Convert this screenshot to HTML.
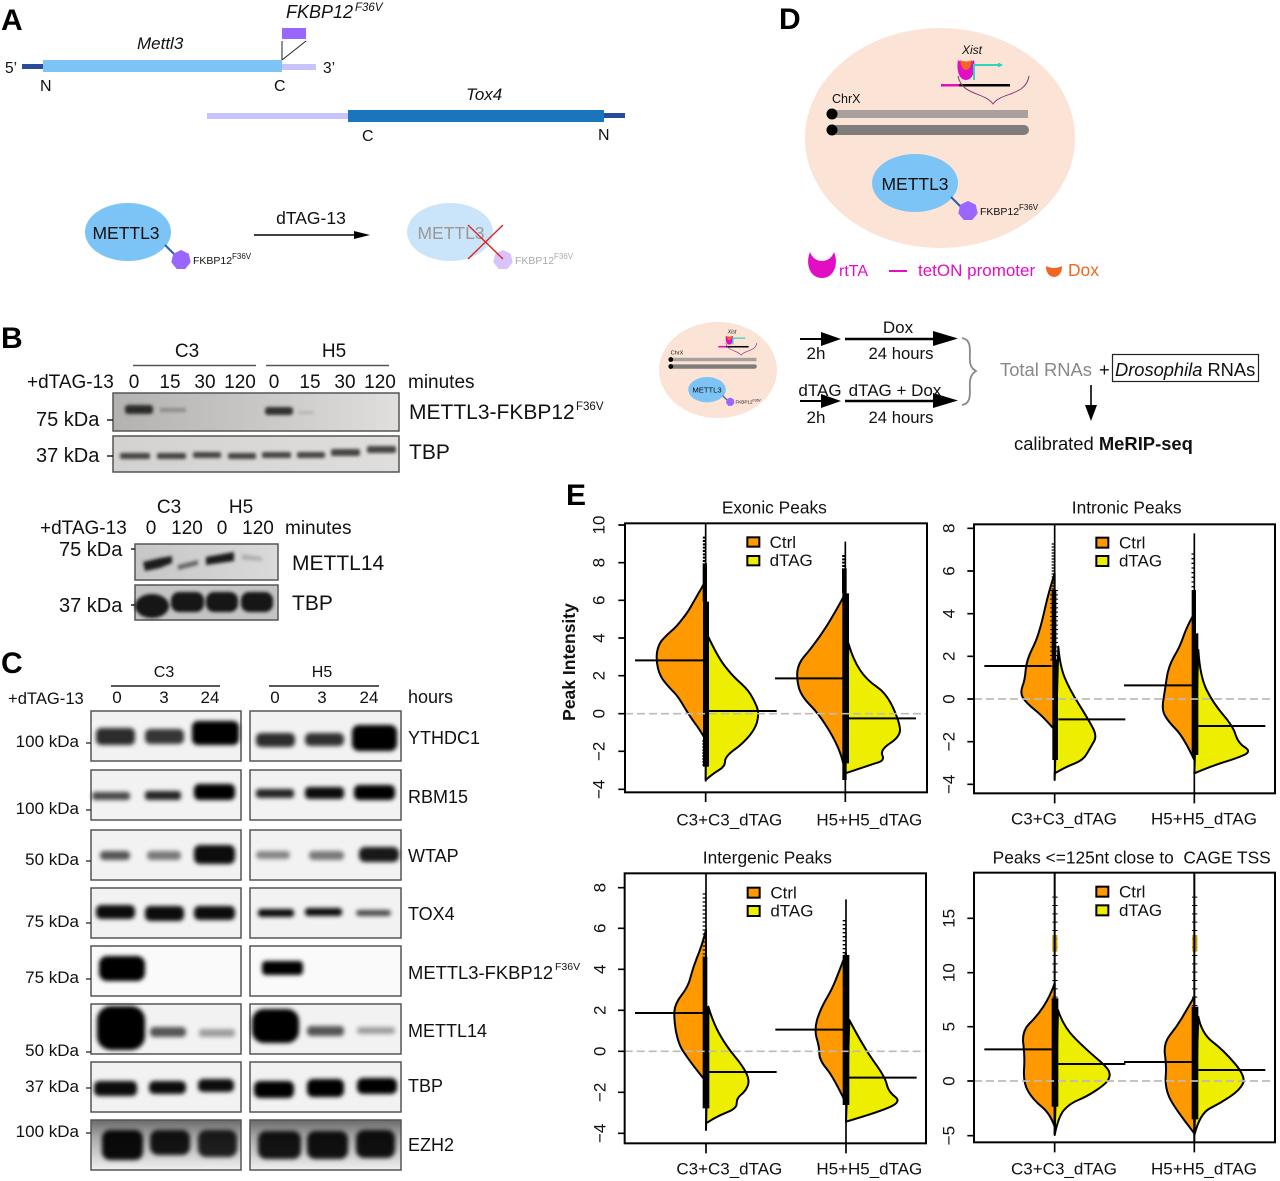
<!DOCTYPE html>
<html><head><meta charset="utf-8">
<style>
html,body{margin:0;padding:0;background:#fff}
svg{display:block;filter:blur(.3px)}
text{font-family:"Liberation Sans",sans-serif;fill:#111}
.pl{font-weight:bold;font-size:30px;fill:#000}
.v{fill:#f90;stroke:#000;stroke-width:6;stroke-linejoin:round}
.y{fill:#ee0;stroke:#000;stroke-width:6;stroke-linejoin:round}
.m{stroke:#000;stroke-width:6;fill:none}
.d{stroke:#bbb;stroke-width:5;stroke-dasharray:24 12;fill:none}
.ax{font-size:51px}
.ti{font-size:52px}
.bk{fill:#000}
.blot{stroke:#555;stroke-width:1.5}
</style></head><body>
<svg xmlns="http://www.w3.org/2000/svg" width="1280" height="1181" viewBox="0 0 1280 1181">
<defs>
<filter id="b" x="-30%" y="-60%" width="160%" height="220%"><feGaussianBlur stdDeviation="2.2"/></filter>
<filter id="b2" x="-30%" y="-60%" width="160%" height="220%"><feGaussianBlur stdDeviation="1.5"/></filter>
<polygon id="hept" points="0,-10 7.8,-6.2 9.7,2.2 4.3,9 -4.3,9 -9.7,2.2 -7.8,-6.2"/>
<linearGradient id="g1"><stop offset="0" stop-color="#b4b2b0"/><stop offset=".5" stop-color="#c8c7c5"/><stop offset="1" stop-color="#e0dfdd"/></linearGradient>
<linearGradient id="g2"><stop offset="0" stop-color="#d4d2d0"/><stop offset="1" stop-color="#e0dedc"/></linearGradient>
<linearGradient id="g3"><stop offset="0" stop-color="#c6c6c6"/><stop offset="1" stop-color="#dadada"/></linearGradient>
<linearGradient id="g4" x2="0" y2="1"><stop offset="0" stop-color="#6a6a6a"/><stop offset=".35" stop-color="#aaa"/><stop offset="1" stop-color="#f0f0f0"/></linearGradient>
</defs>
<rect width="1280" height="1181" fill="#fff"/>

<!-- Panel A -->
<text class="pl" x="1" y="30">A</text>
<rect x="22" y="64" width="21" height="5" fill="#2a4a9c"/>
<rect x="43" y="60" width="239" height="12" fill="#7cc4f6"/>
<rect x="282" y="64" width="34" height="6" fill="#c8c4fa"/>
<rect x="282" y="28" width="24" height="11" fill="#9966ff"/>
<path d="M282,60V41M282,60L306,41" stroke="#222" stroke-width="1" fill="none"/>
<text x="286" y="18" font-size="18" font-style="italic">FKBP12</text>
<text x="355" y="11" font-size="11.5" font-style="italic">F36V</text>
<text x="137" y="49" font-size="17" font-style="italic">Mettl3</text>
<text x="5" y="73" font-size="15.5">5’</text>
<text x="323" y="73" font-size="15.5">3’</text>
<text x="40" y="91" font-size="16">N</text>
<text x="274" y="91" font-size="16">C</text>
<rect x="207" y="113" width="141" height="6" fill="#c8c4fa"/>
<rect x="348" y="110" width="256" height="12" fill="#1b75bc"/>
<rect x="604" y="113" width="21" height="5" fill="#2a4a9c"/>
<text x="466" y="100" font-size="17" font-style="italic">Tox4</text>
<text x="362" y="141" font-size="16">C</text>
<text x="598" y="140" font-size="16">N</text>
<ellipse cx="128" cy="232" rx="43" ry="29" fill="#7cc4f6"/>
<text x="126" y="239" font-size="17.5" text-anchor="middle">METTL3</text>
<line x1="165" y1="245" x2="175" y2="255" stroke="#2b5fa8" stroke-width="2"/>
<use href="#hept" x="181" y="260" fill="#9966ff"/>
<text x="193" y="264" font-size="10.5">FKBP12</text><text x="232" y="259" font-size="8">F36V</text>
<text x="311" y="224" font-size="17.5" text-anchor="middle">dTAG-13</text>
<line x1="254" y1="235" x2="358" y2="235" stroke="#000" stroke-width="1.6"/>
<polygon points="354,231 370,235 354,239" fill="#000"/>
<ellipse cx="450" cy="232" rx="43" ry="29" fill="#cae5fa"/>
<text x="451" y="239" font-size="17.5" text-anchor="middle" style="fill:#999">METTL3</text>
<use href="#hept" x="503" y="260" fill="#d8c4fa"/>
<text x="515" y="264" font-size="10.5" style="fill:#aaa">FKBP12</text><text x="554" y="259" font-size="8" style="fill:#aaa">F36V</text>
<path d="M468,225L503,259M468,259L503,225" stroke="#d22" stroke-width="1.4" fill="none"/>

<!-- Panel D -->
<text class="pl" x="779" y="29">D</text>
<ellipse cx="940" cy="138" rx="135" ry="110" fill="#fbe3d6"/>
<text x="962" y="54" font-size="12" font-style="italic">Xist</text>
<path d="M958,60C956,72 960,80 966,80C972,80 976,72 974,60C971,63 961,63 958,60Z" fill="#e10ec4"/>
<path d="M960,60C961,67 963,70 966,70C969,70 971,67 972,60C969,62 963,62 960,60Z" fill="#f26522"/>
<path d="M974,80V65H1002" stroke="#2cd5bd" stroke-width="2" fill="none"/>
<polygon points="998,62.500 1003,65 998,67.500" fill="#2cd5bd"/>
<rect x="941" y="84" width="69" height="2.500" fill="#000"/>
<rect x="941" y="84" width="18" height="2.500" fill="#e10ec4"/>
<path d="M958,76C962,96 985,92 993,104C1001,92 1026,96 1029,76" stroke="#8a3a78" stroke-width="1" fill="none"/>
<text x="832" y="103" font-size="12.5">ChrX</text>
<rect x="832" y="110" width="196" height="8" fill="#a8a09e"/>
<rect x="832" y="125" width="197" height="10" rx="5" fill="#807c7c"/>
<circle cx="832" cy="114" r="5.5" fill="#000"/><circle cx="832" cy="130" r="5.5" fill="#000"/>
<ellipse cx="915" cy="183" rx="43" ry="29" fill="#7cc4f6"/>
<text x="915" y="190" font-size="17.5" text-anchor="middle">METTL3</text>
<line x1="951" y1="197" x2="961" y2="207" stroke="#2b5fa8" stroke-width="2"/>
<use href="#hept" x="968" y="211" fill="#9966ff"/>
<text x="980" y="215" font-size="10.5">FKBP12</text><text x="1019" y="210" font-size="8">F36V</text>
<path d="M810,252C805,264 810,278 822,278C834,278 839,264 834,252C832,258 827,261 822,261C817,261 812,258 810,252Z" fill="#e10ec4"/>
<text x="839" y="276" font-size="16" style="fill:#e10ec4">rtTA</text>
<rect x="889" y="270" width="18" height="2" fill="#e10ec4"/>
<text x="918" y="276" font-size="17" style="fill:#e10ec4">tetON promoter</text>
<path d="M1046,266Q1054,270 1062,266Q1062,276 1054,277Q1046,276 1046,266Z" fill="#f26522"/>
<text x="1068" y="276" font-size="17.4" style="fill:#f26522">Dox</text>

<g transform="translate(307.2,309.7) scale(.437)">
<ellipse cx="940" cy="138" rx="135" ry="110" fill="#fbe3d6"/>
<text x="962" y="54" font-size="12" font-style="italic">Xist</text>
<path d="M958,60C956,72 960,80 966,80C972,80 976,72 974,60C971,63 961,63 958,60Z" fill="#e10ec4"/>
<path d="M960,60C961,67 963,70 966,70C969,70 971,67 972,60C969,62 963,62 960,60Z" fill="#f26522"/>
<path d="M974,80V65H1002" stroke="#2cd5bd" stroke-width="3" fill="none"/>
<rect x="941" y="83" width="69" height="3.500" fill="#000"/>
<rect x="941" y="83" width="18" height="3.500" fill="#e10ec4"/>
<path d="M958,76C962,96 985,92 993,104C1001,92 1026,96 1029,76" stroke="#8a3a78" stroke-width="1.500" fill="none"/>
<text x="832" y="103" font-size="12.5">ChrX</text>
<rect x="832" y="110" width="196" height="8" fill="#a8a09e"/>
<rect x="832" y="125" width="197" height="10" rx="5" fill="#807c7c"/>
<circle cx="832" cy="114" r="5.5" fill="#000"/><circle cx="832" cy="130" r="5.5" fill="#000"/>
<ellipse cx="915" cy="183" rx="43" ry="29" fill="#7cc4f6"/>
<text x="915" y="190" font-size="17.5" text-anchor="middle">METTL3</text>
<line x1="951" y1="197" x2="961" y2="207" stroke="#2b5fa8" stroke-width="3"/>
<use href="#hept" x="968" y="211" fill="#9966ff"/>
<text x="980" y="215" font-size="10.5">FKBP12</text><text x="1019" y="210" font-size="8">F36V</text>
</g>

<g stroke="#000" fill="none">
<line x1="800" y1="339" x2="828" y2="339" stroke-width="2"/>
<line x1="845" y1="339" x2="940" y2="339" stroke-width="2.6"/>
<line x1="800" y1="401" x2="828" y2="401" stroke-width="2"/>
<line x1="845" y1="401" x2="940" y2="401" stroke-width="2.6"/>
</g>
<polygon points="821,332 841,339 821,346" fill="#000"/>
<polygon points="933,331 958,338.500 933,346" fill="#000"/>
<polygon points="821,394 841,401 821,408" fill="#000"/>
<polygon points="933,393 958,400.500 933,408" fill="#000"/>
<text x="898" y="333" font-size="17" text-anchor="middle">Dox</text>
<text x="816" y="359" font-size="17" text-anchor="middle">2h</text>
<text x="901" y="359" font-size="16.700" text-anchor="middle">24 hours</text>
<text x="820" y="396" font-size="17" text-anchor="middle">dTAG</text>
<text x="895" y="396" font-size="17" text-anchor="middle">dTAG + Dox</text>
<text x="816" y="423" font-size="17" text-anchor="middle">2h</text>
<text x="901" y="423" font-size="16.700" text-anchor="middle">24 hours</text>
<path d="M962,338C973,340 969,352 970,362C971,368 973,369 976,371C973,373 971,375 970,381C969,391 973,403 962,405" stroke="#888" stroke-width="1.800" fill="none"/>
<text x="1000" y="376" font-size="18.400" style="fill:#888">Total RNAs</text>
<text x="1099" y="376" font-size="18.400">+</text>
<rect x="1112.500" y="354.500" width="146" height="27" fill="none" stroke="#222" stroke-width="1.200"/>
<text x="1115" y="376" font-size="18.300"><tspan font-style="italic">Drosophila</tspan> RNAs</text>
<line x1="1091" y1="385" x2="1091" y2="408" stroke="#000" stroke-width="1.600"/>
<polygon points="1085,405 1097,405 1091,421" fill="#000"/>
<text x="1014" y="450" font-size="18.400">calibrated <tspan font-weight="bold">MeRIP-seq</tspan></text>

<!-- Panel B -->
<text class="pl" x="1" y="348">B</text>
<text x="187" y="357" font-size="19" text-anchor="middle">C3</text>
<text x="334" y="357" font-size="19" text-anchor="middle">H5</text>
<path d="M133,365.500H256M266,365.500H389" stroke="#555" stroke-width="1.500"/>
<g font-size="19" text-anchor="middle">
<text x="134" y="388">0</text><text x="170" y="388">15</text><text x="205" y="388">30</text><text x="240" y="388">120</text>
<text x="274" y="388">0</text><text x="310" y="388">15</text><text x="345" y="388">30</text><text x="380" y="388">120</text>
</g>
<text x="27" y="388" font-size="19">+dTAG-13</text>
<text x="408" y="388" font-size="19">minutes</text>
<rect class="blot" x="113" y="393" width="286" height="38" fill="url(#g1)"/>
<g filter="url(#b2)">
<rect x="125" y="405" width="28" height="9" rx="3" fill="#2a2a2a"/>
<rect x="160" y="408" width="26" height="4" fill="#777" opacity=".7"/>
<rect x="265" y="407" width="28" height="8" rx="3" fill="#333"/>
<rect x="298" y="411" width="16" height="3" fill="#999" opacity=".5"/>
</g>
<rect class="blot" x="113" y="436" width="286" height="36" fill="url(#g2)"/>
<g filter="url(#b2)" fill="#444">
<rect x="120" y="453" width="30" height="6" rx="2"/><rect x="157" y="453" width="29" height="6" rx="2"/>
<rect x="193" y="452" width="28" height="6" rx="2"/><rect x="228" y="453" width="28" height="6" rx="2"/>
<rect x="262" y="452" width="29" height="6" rx="2"/><rect x="297" y="452" width="28" height="6" rx="2"/>
<rect x="331" y="449" width="29" height="7" rx="2"/><rect x="367" y="446" width="29" height="7" rx="2"/>
</g>
<text x="36" y="426" font-size="20">75 kDa</text>
<text x="36" y="462" font-size="20">37 kDa</text>
<path d="M107,420H113M107,456H113" stroke="#222" stroke-width="1.500"/>
<text x="409" y="419" font-size="21">METTL3-FKBP12</text><text x="576" y="410" font-size="11.500">F36V</text>
<text x="409" y="459" font-size="21">TBP</text>

<text x="169" y="513" font-size="19" text-anchor="middle">C3</text>
<text x="241" y="513" font-size="19" text-anchor="middle">H5</text>
<text x="40" y="534" font-size="19">+dTAG-13</text>
<g font-size="19" text-anchor="middle">
<text x="151" y="534">0</text><text x="187" y="534">120</text><text x="222" y="534">0</text><text x="258" y="534">120</text>
</g>
<text x="285" y="534" font-size="19">minutes</text>
<rect class="blot" x="135" y="544" width="143" height="36" fill="url(#g3)"/>
<g filter="url(#b2)">
<path d="M143,562L160,558L172,556L172,563L160,568L145,571Z" fill="#1a1a1a"/>
<path d="M178,565L198,560V565L178,570Z" fill="#666"/>
<path d="M206,557L234,552V561L206,565Z" fill="#1a1a1a"/>
<path d="M242,554L262,557V561L242,560Z" fill="#b0b0b0"/>
</g>
<rect class="blot" x="135" y="585" width="143" height="35" fill="#c4c4c4"/>
<g filter="url(#b2)" fill="#141414">
<ellipse cx="152" cy="606" rx="17" ry="12"/>
<rect x="171" y="592" width="33" height="20" rx="8"/><rect x="206" y="592" width="32" height="20" rx="8"/><rect x="241" y="592" width="32" height="20" rx="8"/>
</g>
<text x="59" y="556" font-size="20">75 kDa</text>
<text x="59" y="612" font-size="20">37 kDa</text>
<path d="M131,549H135M131,605H135" stroke="#222" stroke-width="1.500"/>
<text x="292" y="570" font-size="21">METTL14</text>
<text x="292" y="610" font-size="21">TBP</text>

<!-- Panel C -->
<text class="pl" x="1" y="673">C</text>
<text x="164" y="677" font-size="16" text-anchor="middle">C3</text>
<text x="322" y="677" font-size="16" text-anchor="middle">H5</text>
<path d="M111,686H220M269,686H379" stroke="#222" stroke-width="1.500"/>
<text x="8" y="704" font-size="16.600">+dTAG-13</text>
<g font-size="17" text-anchor="middle">
<text x="117" y="703">0</text><text x="164" y="703">3</text><text x="210" y="703">24</text>
<text x="275" y="703">0</text><text x="322" y="703">3</text><text x="369" y="703">24</text>
</g>
<text x="408" y="703" font-size="18">hours</text>
<g fill="#f2f2f2">
<rect class="blot" x="91" y="711" width="150" height="50"/><rect class="blot" x="250" y="711" width="151" height="50"/>
<rect class="blot" x="91" y="770" width="150" height="50"/><rect class="blot" x="250" y="770" width="151" height="50"/>
<rect class="blot" x="91" y="830" width="150" height="50"/><rect class="blot" x="250" y="830" width="151" height="50"/>
<rect class="blot" x="91" y="888" width="150" height="50"/><rect class="blot" x="250" y="888" width="151" height="50"/>
<rect class="blot" x="91" y="946" width="150" height="50" fill="#fafafa"/><rect class="blot" x="250" y="946" width="151" height="50" fill="#fafafa"/>
<rect class="blot" x="91" y="1004" width="150" height="50"/><rect class="blot" x="250" y="1004" width="151" height="50"/>
<rect class="blot" x="91" y="1062" width="150" height="50"/><rect class="blot" x="250" y="1062" width="151" height="50"/>
<rect class="blot" x="91" y="1120" width="150" height="50" fill="url(#g4)"/><rect class="blot" x="250" y="1120" width="151" height="50" fill="url(#g4)"/>
</g>
<g filter="url(#b)" fill="#000">
<!-- YTHDC1 -->
<rect x="96" y="728" width="39" height="17" rx="5" opacity=".82"/><rect x="145" y="729" width="39" height="15" rx="5" opacity=".78"/><rect x="192" y="721" width="47" height="24" rx="6"/>
<rect x="256" y="733" width="39" height="14" rx="5" opacity=".82"/><rect x="305" y="733" width="39" height="13" rx="5" opacity=".8"/><rect x="352" y="725" width="45" height="26" rx="7"/>
<!-- RBM15 -->
<rect x="92" y="792" width="38" height="8" rx="3" opacity=".7"/><rect x="145" y="791" width="36" height="9" rx="3" opacity=".85"/><rect x="194" y="784" width="41" height="16" rx="5"/>
<rect x="256" y="789" width="38" height="9" rx="3" opacity=".85"/><rect x="305" y="787" width="39" height="12" rx="4" opacity=".95"/><rect x="354" y="785" width="41" height="15" rx="5"/>
<!-- WTAP -->
<rect x="100" y="851" width="30" height="9" rx="4" opacity=".65"/><rect x="147" y="851" width="34" height="9" rx="4" opacity=".5"/><rect x="194" y="845" width="41" height="19" rx="6" opacity=".95"/>
<rect x="256" y="851" width="34" height="8" rx="4" opacity=".45"/><rect x="309" y="851" width="35" height="9" rx="4" opacity=".5"/><rect x="359" y="847" width="40" height="15" rx="6" opacity=".9"/>
<!-- TOX4 -->
<rect x="96" y="905" width="39" height="14" rx="5" opacity=".95"/><rect x="145" y="906" width="39" height="15" rx="5" opacity=".95"/><rect x="194" y="906" width="41" height="14" rx="5" opacity=".95"/>
<rect x="258" y="909" width="36" height="8" rx="3" opacity=".95"/><rect x="305" y="908" width="37" height="8" rx="3" opacity=".95"/><rect x="356" y="910" width="35" height="6" rx="3" opacity=".7"/>
<!-- METTL3 -->
<rect x="99" y="956" width="46" height="25" rx="8"/>
<rect x="262" y="961" width="41" height="14" rx="4"/>
<!-- METTL14 -->
<rect x="97" y="1006" width="48" height="44" rx="14"/><rect x="150" y="1027" width="36" height="10" rx="4" opacity=".65"/><rect x="199" y="1029" width="36" height="8" rx="3" opacity=".35"/>
<rect x="252" y="1009" width="47" height="34" rx="12"/><rect x="307" y="1026" width="37" height="10" rx="4" opacity=".65"/><rect x="357" y="1027" width="38" height="7" rx="3" opacity=".35"/>
<!-- TBP -->
<rect x="94" y="1081" width="43" height="15" rx="5" opacity=".95"/><rect x="149" y="1081" width="37" height="13" rx="5" opacity=".95"/><rect x="198" y="1079" width="36" height="13" rx="5" opacity=".95"/>
<rect x="254" y="1081" width="40" height="17" rx="6"/><rect x="307" y="1079" width="37" height="18" rx="6"/><rect x="357" y="1078" width="40" height="16" rx="6"/>
<!-- EZH2 -->
<rect x="102" y="1130" width="41" height="30" rx="8" opacity=".95"/><rect x="150" y="1130" width="40" height="25" rx="8" opacity=".9"/><rect x="198" y="1130" width="39" height="27" rx="8" opacity=".85"/>
<rect x="258" y="1131" width="43" height="28" rx="8" opacity=".9"/><rect x="307" y="1131" width="41" height="28" rx="8" opacity=".92"/><rect x="356" y="1130" width="39" height="28" rx="8" opacity=".92"/>
</g>
<g font-size="18">
<text x="408" y="744">YTHDC1</text><text x="408" y="803">RBM15</text><text x="408" y="862">WTAP</text><text x="408" y="920">TOX4</text>
<text x="408" y="979" font-size="18.400">METTL3-FKBP12</text><text x="555" y="970" font-size="10.500">F36V</text>
<text x="408" y="1037">METTL14</text><text x="408" y="1092">TBP</text><text x="408" y="1151">EZH2</text>
</g>
<g font-size="17" text-anchor="end">
<text x="79" y="747">100 kDa</text><text x="79" y="814">100 kDa</text><text x="79" y="865">50 kDa</text><text x="79" y="927">75 kDa</text>
<text x="79" y="983">75 kDa</text><text x="79" y="1056">50 kDa</text><text x="79" y="1092">37 kDa</text><text x="79" y="1137">100 kDa</text>
</g>
<path d="M86,743H91M86,810H91M86,861H91M86,923H91M86,979H91M86,1052H91M86,1088H91M86,1133H91" stroke="#222" stroke-width="1.200"/>

<!-- Panel E -->
<text class="pl" x="566" y="505">E</text>
<text transform="translate(575,662) rotate(-90)" font-size="17.500" font-weight="bold" text-anchor="middle">Peak Intensity</text>

<!-- Exonic -->
<g transform="translate(550,480) scale(.33333)">
<text class="ti" x="673" y="100" text-anchor="middle">Exonic Peaks</text>
<path class="v" d="M467,300Q455,325 447,337Q440,350 427,372Q415,395 397,417Q380,440 362,455Q345,470 335,482Q325,495 321,517Q318,540 324,565Q330,590 345,607Q360,625 372,637Q385,650 402,680Q420,710 435,730Q450,750 467,780Z"/>
<path class="y" d="M470,460Q500,525 522,555Q545,585 567,605Q590,625 601,642Q612,660 619,677Q627,695 623,717Q620,740 600,765Q580,790 552,810Q525,830 525,845Q525,860 507,870Q490,880 467,900Z"/>
<path class="v" d="M886,340Q865,380 847,410Q830,440 805,475Q780,510 762,530Q745,550 742,575Q740,600 747,625Q755,650 780,675Q805,700 827,735Q850,770 865,805Q880,840 886,880Z"/>
<path class="y" d="M895,490Q910,540 930,570Q950,600 980,620Q1010,640 1030,685Q1050,730 1050,750Q1050,770 1020,790Q990,810 997,826Q1005,842 982,848Q960,855 886,880Z"/>
<rect x="459" y="365" width="18" height="495" class="bk"/><rect x="458" y="250" width="13" height="115" class="bk"/>
<line x1="464" y1="170" x2="464" y2="250" stroke="#000" stroke-width="11" stroke-dasharray="6 4"/>
<line x1="462" y1="780" x2="462" y2="860" stroke="#000" stroke-width="9" stroke-dasharray="6 3"/>
<rect x="877" y="340" width="20" height="510" class="bk"/><rect x="876" y="265" width="14" height="75" class="bk"/>
<line x1="882" y1="225" x2="882" y2="265" stroke="#000" stroke-width="11" stroke-dasharray="6 4"/>
<rect x="877" y="850" width="13" height="50" class="bk"/>
<line x1="467" y1="130" x2="467" y2="905" stroke="#000" stroke-width="5"/>
<line x1="886" y1="185" x2="886" y2="940" stroke="#000" stroke-width="5"/>
<path class="m" d="M255,541H460M470,693H680M675,595H880M895,715H1098"/>
<path class="d" d="M225,701H1130"/>
<rect x="225" y="130" width="906" height="807" fill="none" stroke="#000" stroke-width="6"/>
<rect x="592" y="172" width="36" height="28" fill="#f90" stroke="#000" stroke-width="6"/>
<rect x="592" y="228" width="36" height="28" fill="#ee0" stroke="#000" stroke-width="6"/>
<text class="ax" x="659" y="204">Ctrl</text><text class="ax" x="659" y="258">dTAG</text>
<path d="M205,135H225M205,248H225M205,361H225M205,474H225M205,587H225M205,701H225M205,814H225M205,928H225M467,937V966M886,937V966" stroke="#000" stroke-width="5"/>
<g font-size="51" text-anchor="middle">
<text transform="translate(164,135) rotate(-90)">10</text><text transform="translate(164,248) rotate(-90)">8</text><text transform="translate(164,361) rotate(-90)">6</text><text transform="translate(164,474) rotate(-90)">4</text><text transform="translate(164,587) rotate(-90)">2</text><text transform="translate(164,701) rotate(-90)">0</text><text transform="translate(164,814) rotate(-90)">−2</text><text transform="translate(164,928) rotate(-90)">−4</text>
</g>
<text class="ax" x="538" y="1036" text-anchor="middle">C3+C3_dTAG</text>
<text class="ax" x="958" y="1036" text-anchor="middle">H5+H5_dTAG</text>
</g>

<!-- Intronic -->
<g transform="translate(930,490) scale(.33333)">
<text class="ti" x="590" y="70" text-anchor="middle">Intronic Peaks</text>
<path class="v" d="M374,250Q355,310 345,355Q335,400 327,425Q320,450 305,480Q290,510 287,540Q285,570 277,590Q270,610 280,625Q290,640 315,660Q340,680 374,720Z"/>
<path class="y" d="M385,470Q390,530 405,565Q420,600 445,640Q470,680 486,709Q503,738 491,756Q480,775 470,792Q460,810 435,820Q410,830 392,840L374,850L374,870Z"/>
<path class="v" d="M793,370Q770,410 760,440Q750,470 732,500Q715,530 710,565Q705,600 700,630Q695,660 705,677Q715,695 737,717Q760,740 793,810Z"/>
<path class="y" d="M805,480Q810,560 830,600Q850,640 880,675Q910,710 917,735Q925,760 945,772Q965,785 942,795Q920,805 880,817Q840,830 793,850Z"/>
<rect x="365" y="300" width="14" height="210" class="bk"/><rect x="367" y="510" width="17" height="300" class="bk"/>
<line x1="372" y1="300" x2="372" y2="520" stroke="#000" stroke-width="24" stroke-dasharray="3 10"/>
<line x1="370" y1="160" x2="370" y2="300" stroke="#000" stroke-width="10" stroke-dasharray="4 5"/>
<rect x="785" y="300" width="13" height="130" class="bk"/><rect x="785" y="430" width="20" height="365" class="bk"/>
<line x1="789" y1="190" x2="789" y2="300" stroke="#000" stroke-width="9" stroke-dasharray="4 10"/>
<line x1="374" y1="103" x2="374" y2="870" stroke="#000" stroke-width="5"/>
<line x1="793" y1="130" x2="793" y2="915" stroke="#000" stroke-width="5"/>
<path class="m" d="M163,528H365M385,688H586M582,586H785M805,708H1006"/>
<path class="d" d="M132,627H1035"/>
<rect x="132" y="103" width="903" height="807" fill="none" stroke="#000" stroke-width="6"/>
<rect x="499" y="143" width="36" height="30" fill="#f90" stroke="#000" stroke-width="6"/>
<rect x="499" y="198" width="36" height="30" fill="#ee0" stroke="#000" stroke-width="6"/>
<text class="ax" x="567" y="175">Ctrl</text><text class="ax" x="567" y="229">dTAG</text>
<path d="M112,115H132M112,243H132M112,371H132M112,499H132M112,627H132M112,755H132M112,883H132M374,910V940M793,910V940" stroke="#000" stroke-width="5"/>
<g font-size="51" text-anchor="middle">
<text transform="translate(73,115) rotate(-90)">8</text><text transform="translate(73,243) rotate(-90)">6</text><text transform="translate(73,371) rotate(-90)">4</text><text transform="translate(73,499) rotate(-90)">2</text><text transform="translate(73,627) rotate(-90)">0</text><text transform="translate(73,755) rotate(-90)">−2</text><text transform="translate(73,883) rotate(-90)">−4</text>
</g>
<text class="ax" x="402" y="1003" text-anchor="middle">C3+C3_dTAG</text>
<text class="ax" x="822" y="1003" text-anchor="middle">H5+H5_dTAG</text>
</g>

<!-- Intergenic -->
<g transform="translate(580,840) scale(.33333)">
<text class="ti" x="562" y="70" text-anchor="middle">Intergenic Peaks</text>
<path class="v" d="M378,270Q365,320 352,350Q340,380 332,410Q325,440 305,465Q285,490 283,515Q282,540 288,575Q295,610 307,630Q320,650 335,670Q350,690 378,725Z"/>
<path class="y" d="M385,500Q400,550 420,585Q440,620 465,650Q490,680 500,702Q510,725 502,740Q495,755 482,765Q470,775 470,790Q470,805 445,815Q420,825 399,837L378,850L378,870Z"/>
<path class="v" d="M798,340Q775,400 765,425Q755,450 737,480Q720,510 711,540Q703,570 710,595Q718,620 718,640Q718,660 739,685Q760,710 798,790Z"/>
<path class="y" d="M808,540Q850,620 882,665Q915,710 920,732Q925,755 945,770Q965,785 932,800Q900,815 798,845Z"/>
<rect x="368" y="350" width="14" height="150" class="bk"/><rect x="368" y="500" width="20" height="305" class="bk"/>
<line x1="373" y1="160" x2="373" y2="350" stroke="#000" stroke-width="10" stroke-dasharray="4 8"/>
<rect x="788" y="345" width="20" height="450" class="bk"/>
<line x1="793" y1="240" x2="793" y2="345" stroke="#000" stroke-width="10" stroke-dasharray="4 8"/>
<line x1="378" y1="100" x2="378" y2="870" stroke="#000" stroke-width="5"/>
<line x1="798" y1="178" x2="798" y2="910" stroke="#000" stroke-width="5"/>
<path class="m" d="M165,519H370M385,696H590M586,569H790M805,713H1010"/>
<path class="d" d="M134,634H1038"/>
<rect x="134" y="100" width="904" height="810" fill="none" stroke="#000" stroke-width="6"/>
<rect x="503" y="143" width="36" height="30" fill="#f90" stroke="#000" stroke-width="6"/>
<rect x="503" y="198" width="36" height="30" fill="#ee0" stroke="#000" stroke-width="6"/>
<text class="ax" x="571" y="175">Ctrl</text><text class="ax" x="571" y="229">dTAG</text>
<path d="M114,143H134M114,265H134M114,388H134M114,511H134M114,634H134M114,757H134M114,880H134M378,910V940M798,910V940" stroke="#000" stroke-width="5"/>
<g font-size="51" text-anchor="middle">
<text transform="translate(76,143) rotate(-90)">8</text><text transform="translate(76,265) rotate(-90)">6</text><text transform="translate(76,388) rotate(-90)">4</text><text transform="translate(76,511) rotate(-90)">2</text><text transform="translate(76,634) rotate(-90)">0</text><text transform="translate(76,757) rotate(-90)">−2</text><text transform="translate(76,880) rotate(-90)">−4</text>
</g>
<text class="ax" x="448" y="1003" text-anchor="middle">C3+C3_dTAG</text>
<text class="ax" x="868" y="1003" text-anchor="middle">H5+H5_dTAG</text>
</g>

<!-- CAGE TSS -->
<g transform="translate(930,840) scale(.33333)">
<text class="ti" x="188" y="70" xml:space="preserve">Peaks &lt;=125nt close to  CAGE TSS</text>
<path class="y" d="M384,510Q400,560 435,595Q470,630 500,655Q530,680 536,692Q542,705 536,717Q530,730 500,750Q470,770 445,780Q420,790 402,810Q385,830 374,885Z"/>
<path class="v" d="M374,430Q360,470 340,500Q320,530 297,552Q275,575 280,612Q285,650 282,690Q280,730 295,755Q310,780 335,800Q360,820 374,860Z"/>
<path class="y" d="M805,530Q815,580 847,605Q880,630 914,670Q948,710 939,730Q930,750 900,770Q870,790 840,805Q810,820 793,885Z"/>
<path class="v" d="M793,470Q770,510 755,535Q740,560 720,585Q700,610 705,645Q710,680 707,710Q705,740 717,770Q730,800 793,880Z"/>
<rect x="365" y="475" width="20" height="325" class="bk"/>
<line x1="375" y1="170" x2="375" y2="475" stroke="#000" stroke-width="16" stroke-dasharray="3 22"/>
<rect x="367" y="285" width="15" height="50" fill="#c90"/>
<rect x="785" y="500" width="20" height="338" class="bk"/>
<line x1="794" y1="170" x2="794" y2="500" stroke="#000" stroke-width="16" stroke-dasharray="3 22"/>
<rect x="787" y="285" width="15" height="50" fill="#c90"/>
<line x1="374" y1="98" x2="374" y2="885" stroke="#000" stroke-width="6"/>
<line x1="793" y1="98" x2="793" y2="905" stroke="#000" stroke-width="6"/>
<path class="m" d="M163,628H365M385,672H586M582,666H785M805,690H1006"/>
<path class="d" d="M132,723H1035"/>
<rect x="132" y="98" width="903" height="809" fill="none" stroke="#000" stroke-width="6"/>
<rect x="499" y="140" width="36" height="30" fill="#f90" stroke="#000" stroke-width="6"/>
<rect x="499" y="196" width="36" height="30" fill="#ee0" stroke="#000" stroke-width="6"/>
<text class="ax" x="567" y="172">Ctrl</text><text class="ax" x="567" y="228">dTAG</text>
<path d="M112,235H132M112,398H132M112,560H132M112,723H132M112,887H132M374,907V937M793,907V937" stroke="#000" stroke-width="5"/>
<g font-size="51" text-anchor="middle">
<text transform="translate(73,235) rotate(-90)">15</text><text transform="translate(73,398) rotate(-90)">10</text><text transform="translate(73,560) rotate(-90)">5</text><text transform="translate(73,723) rotate(-90)">0</text><text transform="translate(73,887) rotate(-90)">−5</text>
</g>
<text class="ax" x="402" y="1003" text-anchor="middle">C3+C3_dTAG</text>
<text class="ax" x="822" y="1003" text-anchor="middle">H5+H5_dTAG</text>
</g>
</svg>
</body></html>
